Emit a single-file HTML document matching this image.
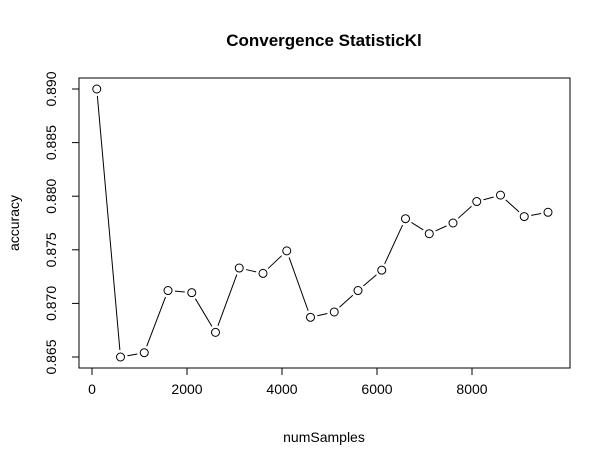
<!DOCTYPE html>
<html><head><meta charset="utf-8"><style>
body{margin:0;background:#fff;}
svg{display:block;font-family:"Liberation Sans",sans-serif;}
</style></head><body>
<svg id="chart" width="610" height="467"></svg>
<script>
const xValues=[100,600,1100,1600,2100,2600,3100,3600,4100,4600,5100,5600,6100,6600,7100,7600,8100,8600,9100,9600];
const accuracy=[0.8900,0.8650,0.8654,0.8712,0.8710,0.8673,0.8733,0.8728,0.8749,0.8687,0.8692,0.8712,0.8731,0.8779,0.8765,0.8775,0.8795,0.8801,0.8781,0.8785];
const xTicks=[0,2000,4000,6000,8000];
const yTicks=[0.865,0.870,0.875,0.880,0.885,0.890];
const NS="http://www.w3.org/2000/svg";
const svg=document.getElementById('chart');
const sx=v=>92+(v/2000)*95;
const sy=v=>357-(v-0.865)/0.025*268;
function mk(t,a,p){const e=document.createElementNS(NS,t);for(const k in a)e.setAttribute(k,a[k]);(p||svg).appendChild(e);return e;}
const frame=mk('rect',{x:79,y:78,width:491,height:290,fill:'none',stroke:'#000'});


const title=mk('text',{x:324,y:46,'text-anchor':'middle','font-size':17,'font-weight':'bold'});
title.textContent='Convergence StatisticKl';


const xl=mk('text',{x:324,y:442,'text-anchor':'middle','font-size':14});
xl.textContent='numSamples';


const yl=mk('text',{x:19,y:223,'text-anchor':'middle','font-size':14,transform:'rotate(-90 19 223)'});
yl.textContent='accuracy';


mk('line',{x1:sx(0),x2:sx(8000),y1:368,y2:368,stroke:'#000'});
xTicks.forEach(t=>{const x=sx(t);mk('line',{x1:x,x2:x,y1:368,y2:375,stroke:'#000'});
const l=mk('text',{x:x,y:394,'text-anchor':'middle','font-size':14});l.textContent=t;

});
mk('line',{x1:79,x2:79,y1:sy(0.865),y2:sy(0.890),stroke:'#000'});
yTicks.forEach(t=>{const y=sy(t);mk('line',{x1:72,x2:79,y1:y,y2:y,stroke:'#000'});
const l=mk('text',{x:56,y:y,'text-anchor':'middle','font-size':14,transform:`rotate(-90 56 ${y})`});l.textContent=t.toFixed(3);

});
for(let i=0;i<xValues.length-1;i++){
 const x1=sx(xValues[i]),y1=sy(accuracy[i]),x2=sx(xValues[i+1]),y2=sy(accuracy[i+1]);
 const d=Math.hypot(x2-x1,y2-y1),g=7;if(d<=2*g)continue;
 const ux=(x2-x1)/d,uy=(y2-y1)/d;
 const s=mk('line',{x1:x1+ux*g,y1:y1+uy*g,x2:x2-ux*g,y2:y2-uy*g,stroke:'#000'});
 
 
}
xValues.forEach((v,i)=>{const c=mk('circle',{cx:sx(v),cy:sy(accuracy[i]),r:4,fill:'#fff',stroke:'#000'});

});
</script>
</body></html>
